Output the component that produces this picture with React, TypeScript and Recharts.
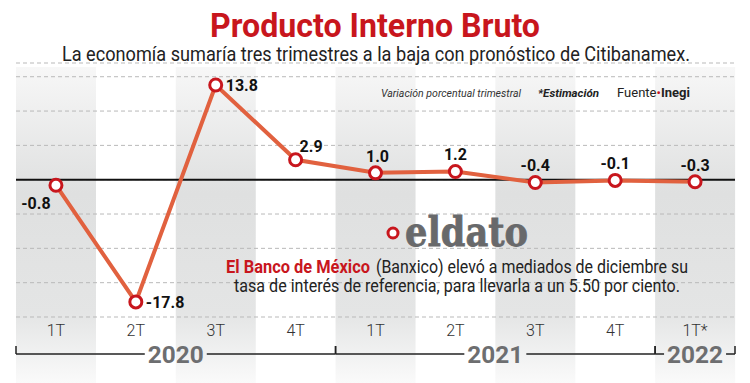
import React from 'react';
import {
  ComposedChart,
  BarChart,
  Bar,
  Cell,
  Line,
  XAxis,
  YAxis,
  CartesianGrid,
  ReferenceLine,
  LabelList,
} from 'recharts';

const keys = ['2020-1', '2020-2', '2020-3', '2020-4', '2021-1', '2021-2', '2021-3', '2021-4', '2022-1'];
const quarters = ['1T', '2T', '3T', '4T', '1T', '2T', '3T', '4T', '1T*'];
const years = ['2020', '2020', '2020', '2020', '2021', '2021', '2021', '2021', '2022'];
const pibValues = [-0.8, -17.8, 13.8, 2.9, 1.0, 1.2, -0.4, -0.1, -0.3];
const yTicks = [-20, -15, -10, -5, 0, 5, 10, 15];

const W = 750;
const H = 383;
const MARGIN = { top: 63, right: 15, left: 16, bottom: 0 };
const BG_MARGIN = { ...MARGIN, top: 67 };
const STEP = (W - MARGIN.left - MARGIN.right) / keys.length;

const RED = '#c8161d';
const LINE = '#e1613f';
const FONT = 'Roboto, "Noto Sans", sans-serif';

const data = keys.map((k, i) => ({
  key: k,
  quarter: quarters[i],
  year: years[i],
  value: pibValues[i],
  bg: 1,
}));

// where each value label sits around its point
const labelPos = [
  { dx: -20, dy: 24, anchor: 'middle' },
  { dx: 10, dy: 6, anchor: 'start' },
  { dx: 10, dy: 6, anchor: 'start' },
  { dx: 4, dy: -8, anchor: 'start' },
  { dx: 2, dy: -11, anchor: 'middle' },
  { dx: 0, dy: -11, anchor: 'middle' },
  { dx: 0, dy: -11, anchor: 'middle' },
  { dx: 0, dy: -11, anchor: 'middle' },
  { dx: 0, dy: -11, anchor: 'middle' },
];

function ValueLabel(props: any) {
  const { x, y, index, value } = props;
  const p = labelPos[index];
  return (
    <text
      x={x + p.dx}
      y={y + p.dy}
      textAnchor={p.anchor}
      fontFamily={FONT}
      fontWeight={700}
      fontSize={16}
      fill="#111"
    >
      {Number(value).toFixed(1)}
    </text>
  );
}

function Dot(props: any) {
  const { cx, cy } = props;
  return <circle cx={cx} cy={cy} r={6} fill="#fff" stroke={RED} strokeWidth={3} />;
}

function QuarterTick(props: any) {
  const { x, y, index } = props;
  const year = years[index];
  const first = years.indexOf(year) === index;
  let bracket = null;
  if (first) {
    const n = years.filter((yy) => yy === year).length;
    const x0 = x - STEP / 2;
    const x1 = x0 + n * STEP;
    const cx = (x0 + x1) / 2;
    const ly = y + 37;
    bracket = (
      <g>
        <line x1={x0} y1={ly} x2={cx - 31} y2={ly} stroke="#222" strokeWidth={1.5} />
        <line x1={cx + 31} y1={ly} x2={x1} y2={ly} stroke="#222" strokeWidth={1.5} />
        <line x1={x0} y1={ly - 8} x2={x0} y2={ly} stroke="#222" strokeWidth={1.5} />
        <line x1={x1} y1={ly - 8} x2={x1} y2={ly} stroke="#222" strokeWidth={1.5} />
        <text
          x={cx}
          y={y + 46}
          textAnchor="middle"
          fontFamily={FONT}
          fontWeight={700}
          fontSize={23}
          fill="#6d6e70"
          textLength={56}
          lengthAdjust="spacingAndGlyphs"
        >
          {year}
        </text>
      </g>
    );
  }
  return (
    <g>
      <text
        x={x}
        y={y + 19}
        textAnchor="middle"
        fontFamily={FONT}
        fontWeight={300}
        fontSize={16}
        fill="#333"
      >
        {quarters[index]}
      </text>
      {bracket}
    </g>
  );
}

export default function App() {
  return (
    <div style={{ position: 'absolute', left: 0, top: 0, width: W, height: H, background: '#fff', overflow: 'hidden' }}>
      <div style={{ position: 'absolute', left: 0, top: 0 }}>
        <BarChart width={W} height={H} data={data} margin={BG_MARGIN} barCategoryGap={0}>
          <defs>
            <linearGradient id="colGrad" x1="0" y1="0" x2="0" y2="1">
              <stop offset="0%" stopColor="#f7f7f7" />
              <stop offset="40%" stopColor="#dfe0e0" />
              <stop offset="78%" stopColor="#e4e5e5" />
              <stop offset="100%" stopColor="#fafafa" />
            </linearGradient>
          </defs>
          <XAxis dataKey="key" hide />
          <YAxis hide domain={[0, 1]} />
          <Bar dataKey="bg" isAnimationActive={false}>
            {data.map((d, i) => (
              <Cell key={d.key} fill={i % 2 === 0 ? 'url(#colGrad)' : 'transparent'} />
            ))}
          </Bar>
        </BarChart>
      </div>
      <div style={{ position: 'absolute', left: 0, top: 0 }}>
        <ComposedChart width={W} height={H} data={data} margin={MARGIN}>
          <CartesianGrid vertical={false} stroke="#b9b9b9" strokeDasharray="4 3" />
          <XAxis
            dataKey="key"
            height={H - 317}
            axisLine={false}
            tickLine={false}
            tickSize={0}
            tickMargin={0}
            interval={0}
            padding={{ left: STEP / 2, right: STEP / 2 }}
            tick={<QuarterTick />}
          />
          <YAxis hide domain={[-20, 17]} ticks={yTicks} />
          <ReferenceLine y={0} stroke="#111" strokeWidth={2} />
          <Line
            dataKey="value"
            stroke={LINE}
            strokeWidth={4}
            dot={<Dot />}
            activeDot={false}
            isAnimationActive={false}
          >
            <LabelList dataKey="value" content={<ValueLabel />} />
          </Line>
        </ComposedChart>
      </div>
      <svg width={W} height={H} style={{ position: 'absolute', left: 0, top: 0, pointerEvents: 'none' }}>
        <text
          x={375}
          y={37}
          textAnchor="middle"
          fontFamily={FONT}
          fontWeight={700}
          fontSize={33}
          fill={RED}
          textLength={330}
          lengthAdjust="spacingAndGlyphs"
        >
          Producto Interno Bruto
        </text>
        <text
          x={376}
          y={61}
          textAnchor="middle"
          fontFamily={FONT}
          fontSize={21}
          fill="#222"
          textLength={628}
          lengthAdjust="spacingAndGlyphs"
        >
          La economía sumaría tres trimestres a la baja con pronóstico de Citibanamex.
        </text>
        <text x={381} y={97} fontFamily={FONT} fontStyle="italic" fontSize={11.5} fill="#333" textLength={140} lengthAdjust="spacingAndGlyphs">
          Variación porcentual trimestral
        </text>
        <text x={538} y={97} fontFamily={FONT} fontStyle="italic" fontWeight={700} fontSize={11.5} fill="#222" textLength={61} lengthAdjust="spacingAndGlyphs">
          *Estimación
        </text>
        <text x={617} y={97} fontFamily={FONT} fontSize={12} fill="#222" textLength={73} lengthAdjust="spacingAndGlyphs">
          Fuente<tspan fill={RED}>•</tspan>
          <tspan fontWeight={700}>Inegi</tspan>
        </text>
        <circle cx={393} cy={233} r={5} fill="#fff" stroke={RED} strokeWidth={3} />
        <text
          x={405}
          y={246}
          fontFamily='"DejaVu Serif", "Liberation Serif", serif'
          fontWeight={700}
          fontSize={41}
          fill="#68696b"
          stroke="#68696b"
          strokeWidth={0.8}
          textLength={123}
          lengthAdjust="spacingAndGlyphs"
        >
          eldato
        </text>
        <text x={226} y={273} fontFamily={FONT} fontWeight={700} fontSize={18} fill={RED} textLength={144} lengthAdjust="spacingAndGlyphs">
          El Banco de México
        </text>
        <text x={376} y={273} fontFamily={FONT} fontSize={18} fill="#222" textLength={312} lengthAdjust="spacingAndGlyphs">
          (Banxico) elevó a mediados de diciembre su
        </text>
        <text x={234} y={292} fontFamily={FONT} fontSize={18} fill="#222" textLength={446} lengthAdjust="spacingAndGlyphs">
          tasa de interés de referencia, para llevarla a un 5.50 por ciento.
        </text>
      </svg>
    </div>
  );
}
